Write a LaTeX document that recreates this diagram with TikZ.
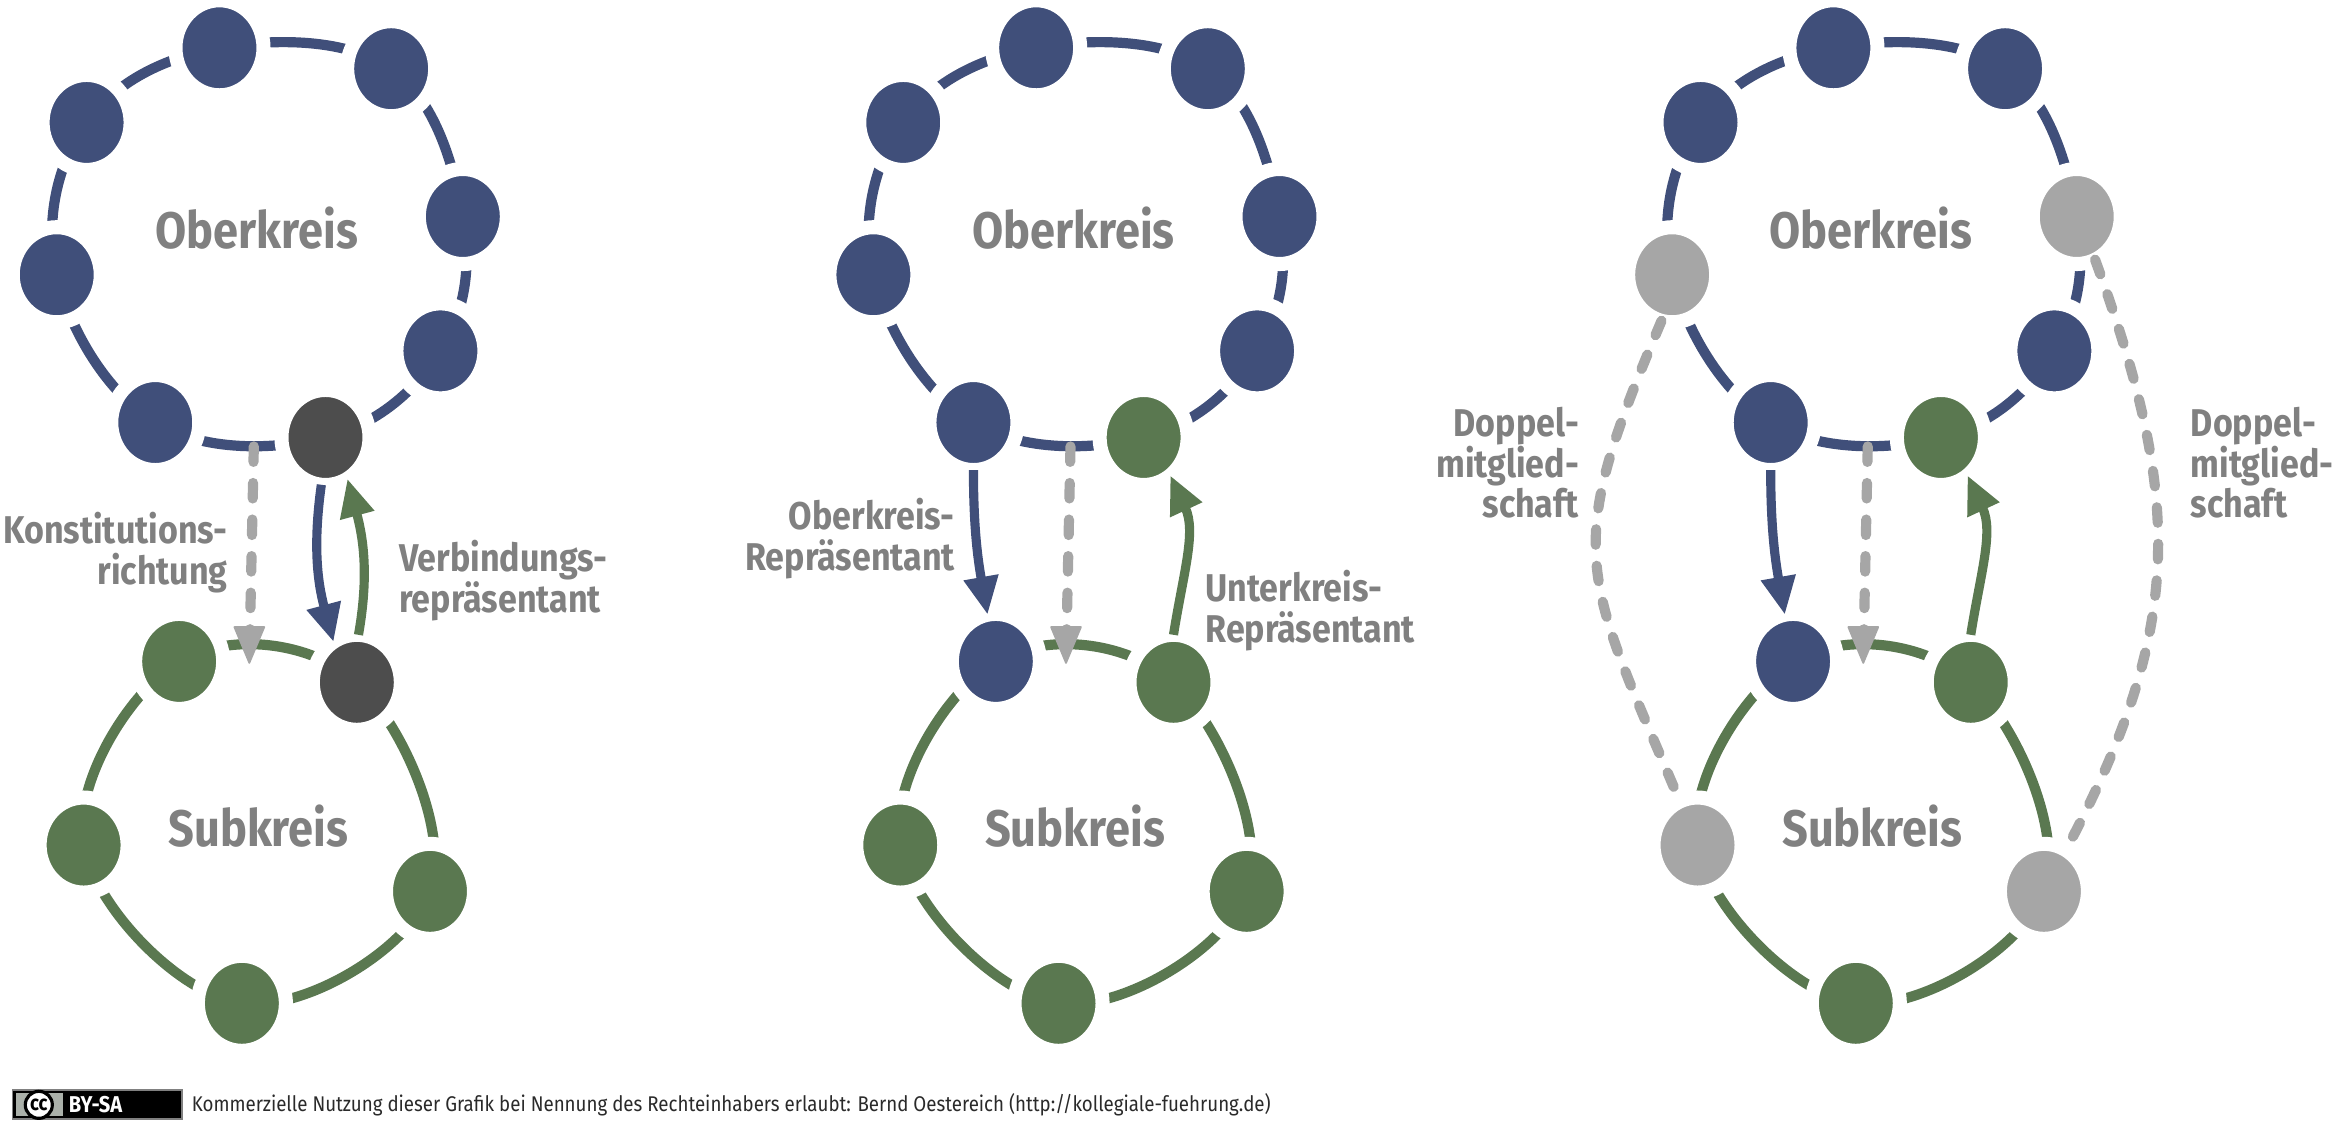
\documentclass[tikz,border=0pt]{standalone}
\usepackage{fontspec}
\setmainfont{Fira Sans}[FakeStretch=0.88]
\usetikzlibrary{shapes.geometric,arrows.meta}
\pgfdeclarelayer{bg}
\pgfsetlayers{bg,main}
\definecolor{cBlue}{HTML}{404F7A}
\definecolor{cGreen}{HTML}{5A7850}
\definecolor{cDark}{HTML}{4D4D4D}
\definecolor{cGrayN}{HTML}{A6A6A6}
\definecolor{cText}{HTML}{808080}
\definecolor{cFoot}{HTML}{2A2A2A}
\definecolor{cBadge}{HTML}{ABB1AA}
\begin{document}
\begin{tikzpicture}[x=0.01493cm,y=-0.01493cm,
  blob/.style={ellipse, draw=white, line width=4pt, outer sep=0pt, inner sep=0pt,
               minimum width=0.88cm, minimum height=0.95cm},
  bb/.style={blob, fill=cBlue},
  gb/.style={blob, fill=cGreen},
  db/.style={blob, fill=cDark},
  hb/.style={blob, fill=cGrayN},
  ringB/.style={draw=cBlue, line width=2.9pt},
  ringG/.style={draw=cGreen, line width=2.9pt},
  tip/.style={-{Triangle[length=0.38cm,width=0.33cm]}},
  arrB/.style={draw=cBlue, line width=2.6pt, tip},
  arrG/.style={draw=cGreen, line width=2.6pt, tip},
  dsh/.style={draw=cGrayN, line width=2.9pt, line cap=round, dash pattern=on 4.4pt off 6pt},
  dsharr/.style={dsh, shorten >=0.3cm},
  gtip/.style={draw=cGrayN, fill=cGrayN, line width=0.5pt, line join=round},
  ttl/.style={font=\bfseries\fontsize{14.6}{16}\selectfont, text=cText, inner sep=0pt},
  lbl/.style={font=\bfseries\fontsize{11}{11.6}\selectfont, text=cText, inner sep=0pt},
]
\useasboundingbox (0,0) rectangle (1568,754);

% ================= Panel 1 =================
\node[bb] (a1) at (147,32) {};
\node[bb] (a2) at (262,46) {};
\node[bb] (a3) at (310,145) {};
\node[bb] (a4) at (295,235) {};
\node[db] (a5) at (218,293) {};
\node[bb] (a6) at (104,283) {};
\node[bb] (a7) at (38,184) {};
\node[bb] (a8) at (58,82) {};
\node[gb] (b1) at (120,443) {};
\node[db] (b2) at (239,457) {};
\node[gb] (b3) at (288,597) {};
\node[gb] (b4) at (162,672) {};
\node[gb] (b5) at (56,566) {};
\begin{pgfonlayer}{bg}
\draw[ringB] plot[smooth cycle, tension=0.65] coordinates {(a1.center) (a2.center) (a3.center) (a4.center) (a5.center) (a6.center) (a7.center) (a8.center)};
\draw[ringG] plot[smooth cycle, tension=0.65] coordinates {(b1.center) (b2.center) (b3.center) (b4.center) (b5.center)};
\end{pgfonlayer}
\node[ttl] (ta) at (172,153) {Oberkreis};
\node[ttl] (tb) at (173,553) {Subkreis};
\coordinate (ka) at (170,299);
\coordinate (kb) at (167,444);
\draw[dsharr] (ka) -- (kb);
\fill[gtip] (kb) -- ++(-10,-24) -- ++(20,0) -- cycle;
\draw[arrB] (a5.265) to[out=-98, in=105] (b2.120);
\draw[arrG] (b2.88) to[out=80, in=-75] (a5.298);
\node[lbl, anchor=east, align=right] (la) at (153,370) {Konstitutions-\\richtung};
\node[lbl, anchor=west, align=left] (lb) at (267,389) {Verbindungs-\\repräsentant};

% ================= Panel 2 =================
\node[bb] (c1) at (694,32) {};
\node[bb] (c2) at (809,46) {};
\node[bb] (c3) at (857,145) {};
\node[bb] (c4) at (842,235) {};
\node[gb] (c5) at (766,293) {};
\node[bb] (c6) at (652,283) {};
\node[bb] (c7) at (585,184) {};
\node[bb] (c8) at (605,82) {};
\node[bb] (d1) at (667,443) {};
\node[gb] (d2) at (786,457) {};
\node[gb] (d3) at (835,597) {};
\node[gb] (d4) at (709,672) {};
\node[gb] (d5) at (603,566) {};
\begin{pgfonlayer}{bg}
\draw[ringB] plot[smooth cycle, tension=0.65] coordinates {(c1.center) (c2.center) (c3.center) (c4.center) (c5.center) (c6.center) (c7.center) (c8.center)};
\draw[ringG] plot[smooth cycle, tension=0.65] coordinates {(d1.center) (d2.center) (d3.center) (d4.center) (d5.center)};
\end{pgfonlayer}
\node[ttl] (tc) at (719,153) {Oberkreis};
\node[ttl] (td) at (720,553) {Subkreis};
\coordinate (kc) at (717,299);
\coordinate (kd) at (714,444);
\draw[dsharr] (kc) -- (kd);
\fill[gtip] (kd) -- ++(-10,-24) -- ++(20,0) -- cycle;
\draw[arrB] (c6.270) to[out=-90, in=100] (d1.100);
\draw[arrG] (d2.90) to[out=81, in=-65] (c5.305);
\node[lbl, anchor=east, align=right] (lc) at (640,361) {Oberkreis-\\Repräsentant};
\node[lbl, anchor=west, align=left] (ld) at (807,409) {Unterkreis-\\Repräsentant};

% ================= Panel 3 =================
\node[bb] (e1) at (1228,32) {};
\node[bb] (e2) at (1343,46) {};
\node[hb] (e3) at (1391,145) {};
\node[bb] (e4) at (1376,235) {};
\node[gb] (e5) at (1300,293) {};
\node[bb] (e6) at (1186,283) {};
\node[hb] (e7) at (1120,184) {};
\node[bb] (e8) at (1139,82) {};
\node[bb] (f1) at (1201,443) {};
\node[gb] (f2) at (1320,457) {};
\node[hb] (f3) at (1369,597) {};
\node[gb] (f4) at (1243,672) {};
\node[hb] (f5) at (1137,566) {};
\begin{pgfonlayer}{bg}
\draw[ringB] plot[smooth cycle, tension=0.65] coordinates {(e1.center) (e2.center) (e3.center) (e4.center) (e5.center) (e6.center) (e7.center) (e8.center)};
\draw[ringG] plot[smooth cycle, tension=0.65] coordinates {(f1.center) (f2.center) (f3.center) (f4.center) (f5.center)};
\end{pgfonlayer}
\node[ttl] (te) at (1253,153) {Oberkreis};
\node[ttl] (tf) at (1254,553) {Subkreis};
\coordinate (ke) at (1251,299);
\coordinate (kf) at (1248,444);
\draw[dsharr] (ke) -- (kf);
\fill[gtip] (kf) -- ++(-10,-24) -- ++(20,0) -- cycle;
\draw[arrB] (e6.270) to[out=-90, in=100] (f1.100);
\draw[arrG] (f2.90) to[out=81, in=-65] (e5.305);
\draw[dsh] (e7.257) to[out=247, in=113, looseness=1.35] (f5.112);
\draw[dsh] (e3.293) to[out=290, in=62, looseness=1.1] (f3.62);
\node[lbl, anchor=east, align=right] (le) at (1058,310) {Doppel-\\mitglied-\\schaft};
\node[lbl, anchor=west, align=left] (lf) at (1467,310) {Doppel-\\mitglied-\\schaft};

% ================= Footer =================
\fill[black] (8.5,730) rectangle (122,749.5);
\draw[gray, line width=0.4pt] (8.5,730) rectangle (122,749.5);
\fill[cBadge] (11,732.2) rectangle (42,747.3);
\draw[black, fill=white, line width=0.9pt] (26,740) circle[radius=0.135cm];
\node[font=\bfseries\fontsize{6}{6}\selectfont, inner sep=0pt] (cctxt) at (26,740) {cc};
\node[font=\bfseries\fontsize{6.5}{6.5}\selectfont, text=white, inner sep=0pt] (bysa) at (64,740) {BY-SA};
\node[anchor=west, font=\fontsize{6.05}{6.5}\selectfont, text=cFoot, inner sep=0pt] (foot) at (128,740) {Kommerzielle Nutzung dieser Grafik bei Nennung des Rechteinhabers erlaubt: Bernd Oestereich (http://kollegiale-fuehrung.de)};
\end{tikzpicture}
\end{document}
